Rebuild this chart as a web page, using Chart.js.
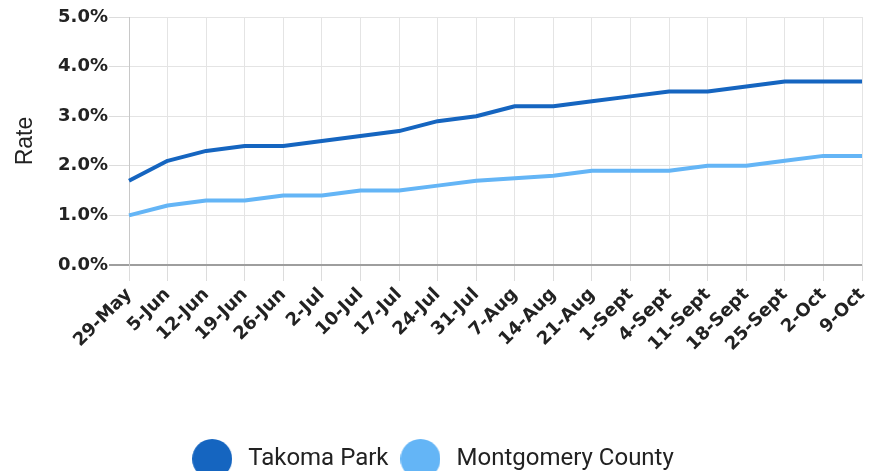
<!DOCTYPE html>
<html>
<head>
<meta charset="utf-8">
<script src="https://cdn.jsdelivr.net/npm/chart.js@4/dist/chart.umd.min.js"></script>
<style>
  html, body { margin: 0; padding: 0; background: #fff; }
  #wrap { width: 881px; height: 471px; }
</style>
</head>
<body>
<div id="wrap"><canvas id="rateChart" width="881" height="471"></canvas></div>
<script>
// weeks on the x axis
const weeks = ["29-May", "5-Jun", "12-Jun", "19-Jun", "26-Jun", "2-Jul", "10-Jul", "17-Jul",
  "24-Jul", "31-Jul", "7-Aug", "14-Aug", "21-Aug", "1-Sept", "4-Sept", "11-Sept",
  "18-Sept", "25-Sept", "2-Oct", "9-Oct"];

// rates in percent
const takomaPark = [1.7, 2.1, 2.3, 2.4, 2.4, 2.5, 2.6, 2.7, 2.9, 3.0,
  3.2, 3.2, 3.3, 3.4, 3.5, 3.5, 3.6, 3.7, 3.7, 3.7];
const montgomery = [1.0, 1.2, 1.3, 1.3, 1.4, 1.4, 1.5, 1.5, 1.6, 1.7,
  1.75, 1.8, 1.9, 1.9, 1.9, 2.0, 2.0, 2.1, 2.2, 2.2];

const yTicks = [0, 1, 2, 3, 4, 5];

const darkBlue = "#1565c0";
const lightBlue = "#64b5f6";

// big round dots for the legend
function makeDot(color) {
  const c = document.createElement("canvas");
  c.width = 40;
  c.height = 40;
  const g = c.getContext("2d");
  g.fillStyle = color;
  g.beginPath();
  g.arc(20, 20, 20, 0, Math.PI * 2);
  g.fill();
  return c;
}
const dots = [makeDot(darkBlue), makeDot(lightBlue)];

const ctx = document.getElementById("rateChart").getContext("2d");

new Chart(ctx, {
  type: "line",
  data: {
    labels: weeks,
    datasets: [
      {
        label: "Takoma Park",
        data: takomaPark,
        borderColor: darkBlue,
        backgroundColor: darkBlue,
        borderWidth: 4,
        pointRadius: 0,
        tension: 0,
        borderJoinStyle: "round"
      },
      {
        label: "Montgomery County",
        data: montgomery,
        borderColor: lightBlue,
        backgroundColor: lightBlue,
        borderWidth: 4,
        pointRadius: 0,
        tension: 0,
        borderJoinStyle: "round"
      }
    ]
  },
  options: {
    responsive: false,
    animation: false,
    layout: { padding: { top: 17, right: 19, left: 0, bottom: -10 } },
    plugins: {
      tooltip: { enabled: false },
      legend: {
        position: "bottom",
        labels: {
          usePointStyle: true,
          pointStyleWidth: 48,
          padding: 8,
          color: "#222",
          font: { family: "Roboto", size: 24 },
          generateLabels: (chart) =>
            Chart.defaults.plugins.legend.labels.generateLabels(chart).map((item, i) => {
              item.pointStyle = dots[i];
              return item;
            })
        }
      }
    },
    scales: {
      x: {
        offset: false,
        grid: { color: "#e4e4e4", tickLength: 16, tickColor: "#dcdcdc" },
        border: { display: false },
        ticks: {
          autoSkip: false,
          maxRotation: 45,
          minRotation: 45,
          padding: 3,
          color: "#222",
          font: { family: "DejaVu Sans", weight: "bold", size: 18 }
        },
        afterFit: (scale) => { scale.height = 439 - 265; }
      },
      y: {
        min: 0,
        max: 5,
        afterBuildTicks: (scale) => { scale.ticks = yTicks.map(v => ({ value: v })); },
        grid: {
          tickLength: 20,
          color: (c) => c.tick && c.tick.value === 0 ? "#9e9e9e" : "#e4e4e4",
          tickColor: (c) => c.tick && c.tick.value === 0 ? "#9e9e9e" : "#dcdcdc",
          lineWidth: (c) => c.tick && c.tick.value === 0 ? 2 : 1
        },
        border: { display: true, color: "#c8c8c8" },
        title: {
          display: true,
          text: "Rate",
          color: "#222",
          font: { family: "Liberation Sans", size: 23 },
          padding: { top: 12, bottom: 0 }
        },
        ticks: {
          padding: 1,
          color: "#222",
          font: { family: "DejaVu Sans", weight: "bold", size: 18 },
          callback: (v) => v.toFixed(1) + "%"
        },
        afterFit: (scale) => { scale.width = 129; }
      }
    }
  }
});
</script>
</body>
</html>
